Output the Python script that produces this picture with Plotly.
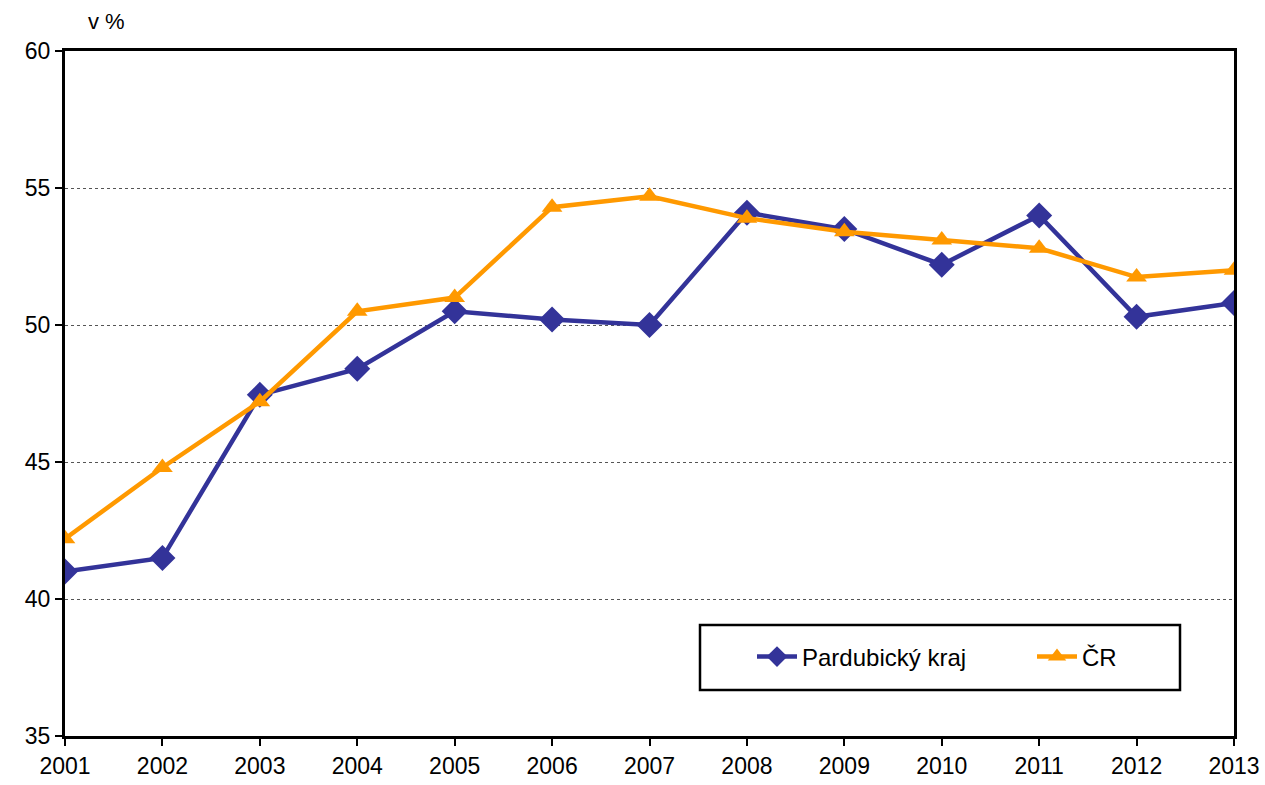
import plotly.graph_objects as go

years = [2001, 2002, 2003, 2004, 2005, 2006, 2007, 2008, 2009, 2010, 2011, 2012, 2013]
pardubicky = [41.0, 41.5, 47.45, 48.4, 50.5, 50.2, 50.0, 54.1, 53.5, 52.2, 54.0, 50.3, 50.8]
cr = [42.2, 44.8, 47.2, 50.5, 51.0, 54.3, 54.7, 53.9, 53.4, 53.1, 52.8, 51.75, 52.0]
y_ticks = [35, 40, 45, 50, 55, 60]

FONT = "Liberation Sans, Arial, sans-serif"

# page has body margin removed (post_script), so figure origin = page origin
PL, PR, PT, PB = 65, 1234, 51, 736
W, H = 1265, 785
pw, ph = PR - PL, PB - PT

fig = go.Figure()
fig.add_trace(go.Scatter(
    x=years, y=pardubicky, name="Pardubický kraj", mode="lines+markers",
    line=dict(color="#333399", width=4.5),
    marker=dict(symbol="diamond", size=20, color="#333399"),
    legend="legend",
))
fig.add_trace(go.Scatter(
    x=years, y=cr, name="ČR", mode="lines+markers",
    line=dict(color="#FF9900", width=4.5),
    marker=dict(symbol="triangle-up", size=18, color="#FF9900"),
    legend="legend2",
))

leg_common = dict(
    yanchor="middle", orientation="h", borderwidth=0,
    font=dict(family=FONT, size=24, color="black"),
    bgcolor="rgba(0,0,0,0)", itemwidth=40,
)

fig.update_layout(
    width=W, height=H,
    margin=dict(l=PL, r=W - PR, t=PT, b=H - PB, pad=0),
    paper_bgcolor="white", plot_bgcolor="white",
    font=dict(family=FONT, size=23, color="black"),
    showlegend=True,
    legend=dict(x=(752 - PL) / pw, y=(PB - 657) / ph, xanchor="left", **leg_common),
    legend2=dict(x=(1032 - PL) / pw, y=(PB - 657) / ph, xanchor="left", **leg_common),
    xaxis=dict(
        range=[2001, 2013], tickmode="array", tickvals=years,
        ticktext=[str(y) for y in years],
        showline=True, linecolor="black", linewidth=3, mirror=True,
        ticks="outside", ticklen=7, tickwidth=2, tickcolor="black",
        showgrid=False, zeroline=False, automargin=False,
        tickfont=dict(family=FONT, size=23),
    ),
    yaxis=dict(
        range=[35, 60], tickmode="array", tickvals=y_ticks,
        showline=True, linecolor="black", linewidth=3, mirror=True,
        ticks="outside", ticklen=7, tickwidth=2, tickcolor="black",
        showgrid=True, gridcolor="#555555", griddash="dot", gridwidth=1,
        zeroline=False, automargin=False,
        tickfont=dict(family=FONT, size=23),
    ),
    shapes=[dict(
        type="rect", xref="paper", yref="paper",
        x0=(700 - PL) / pw, x1=(1180 - PL) / pw,
        y0=(PB - 690) / ph, y1=(PB - 625) / ph,
        line=dict(color="black", width=2.5), fillcolor="white", layer="below",
    )],
    annotations=[dict(
        text="v %", xref="paper", yref="paper",
        x=(106 - PL) / pw, y=(PB - 22) / ph, xanchor="center", yanchor="middle",
        showarrow=False, font=dict(family=FONT, size=22),
    )],
)

fig.write_html(
    "out.html",
    config={"displayModeBar": False},
    post_script="document.body.style.margin='0';document.body.style.overflow='hidden';",
)
